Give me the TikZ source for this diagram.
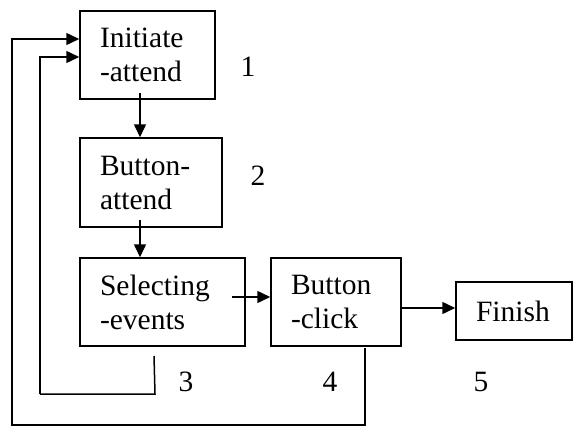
\documentclass[tikz,border=0pt]{standalone}
\usepackage{fontspec}
\setmainfont{Liberation Serif}
\usetikzlibrary{arrows.meta}

\tikzset{
  blk/.style={draw, line width=1.5pt, align=left, inner xsep=20pt, inner ysep=0pt,
              font=\fontsize{29.5}{34}\selectfont},
  num/.style={font=\fontsize{29.5}{34}\selectfont},
  arr/.style={line width=1.5pt, -{Triangle[length=13pt,width=12pt]}},
  ln/.style={line width=1.5pt}
}

\begin{document}
\begin{tikzpicture}[x=1pt, y=-1pt]
        \useasboundingbox (0,0) rectangle (577,428);

        % boxes
        \node [blk, text width=95pt, minimum height=88pt] (init) at (147.5,55) {Initiate\\-attend};
        \node [blk, text width=102pt, minimum height=89pt] (battend) at (151,182.5) {Button-\\attend};
        \node [blk, text width=125pt, minimum height=88pt] (select) at (162.5,302) {Selecting\\-events};
        \node [blk, text width=90pt, minimum height=88pt] (click) at (336,302) {Button\\-click};
        \node [blk, text width=76pt, minimum height=58pt] (finish) at (514,311) {Finish};

        % step numbers
        \node [num] (n1) at (248,67) {1};
        \node [num] (n2) at (258,176) {2};
        \node [num] (n3) at (186,382) {3};
        \node [num] (n4) at (330,382) {4};
        \node [num] (n5) at (481,382) {5};

        % forward arrows
        \draw [arr] ([xshift=-7.5pt,yshift=7pt]init.south) -- ([xshift=-11pt]battend.north);
        \draw [arr] ([xshift=-11pt,yshift=8pt]battend.south) -- ([xshift=-22.5pt]select.north);
        \draw [arr] ([xshift=-14pt,yshift=5pt]select.east) -- ([yshift=5pt]click.west);
        \draw [arr] ([yshift=-6pt]click.east) -- ([yshift=3pt]finish.west);

        % loops back
        \coordinate (selfoot) at (154,356);
        \coordinate (clickfoot) at (365,348);
        \draw [ln] (selfoot) -- (155,394) -- (40,394);
        \draw [arr] (40,394) |- ([yshift=-2pt]init.west);
        \draw [arr] (clickfoot) |- (12,425) |- ([yshift=16pt]init.west);
      \end{tikzpicture}
\end{document}
